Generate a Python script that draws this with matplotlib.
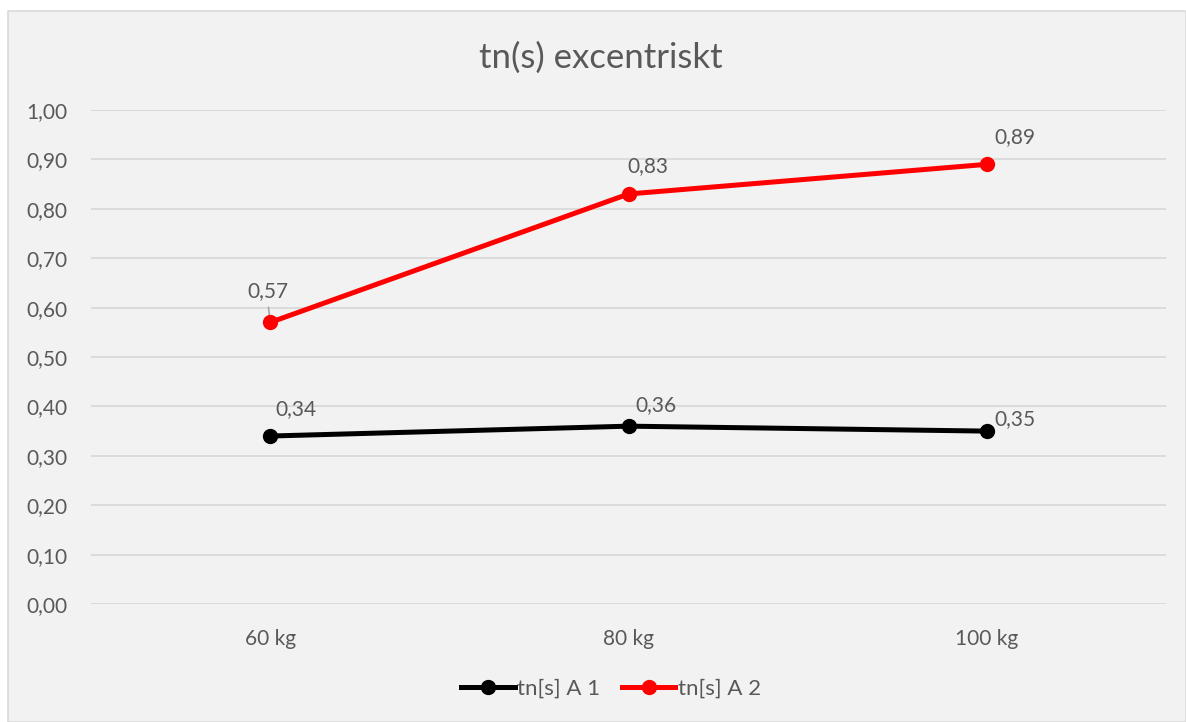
import matplotlib.pyplot as plt
import numpy as np
from matplotlib.patches import Rectangle
from matplotlib.ticker import FuncFormatter

categories = ['60 kg', '80 kg', '100 kg']
a1 = [0.34, 0.36, 0.35]
a2 = [0.57, 0.83, 0.89]
# label offsets in pixels (converted to points below)
a1_label_offsets = [(26, 27), (27, 21), (28, 12)]
a2_label_offsets = [(-2, 31), (19, 28), (28, 27)]

plt.rcParams['font.family'] = ['Lato', 'DejaVu Sans']
text_color = '#595959'
px = 0.72

fig = plt.figure(figsize=(11.86, 7.22), dpi=100)
fig.patch.set_facecolor('white')
fig.patches.append(Rectangle((8 / 1186, 0), 1 - 8 / 1186, 1 - 11 / 722,
                             transform=fig.transFigure, facecolor='#f2f2f2',
                             edgecolor='#d9d9d9', lw=1.2, zorder=-5))
ax = fig.add_axes([91 / 1186, 1 - 604 / 722, 1075 / 1186, 494 / 722])
ax.set_facecolor('none')
ax.set_zorder(2)

x = np.arange(len(categories))
ax.plot(x, a1, color='black', lw=3.6, marker='o', markersize=10, label='tn[s] A 1', zorder=3)
ax.plot(x, a2, color='#ff0000', lw=3.6, marker='o', markersize=10, label='tn[s] A 2', zorder=3)

for vals, offs in ((a1, a1_label_offsets), (a2, a2_label_offsets)):
    for xi, v, (dx, dy) in zip(x, vals, offs):
        ax.annotate(f'{v:.2f}'.replace('.', ','), (xi, v), xytext=(dx * px, dy * px),
                    textcoords='offset points', ha='center', va='center',
                    fontsize=15, color=text_color)
# leader line for the first label
ax.annotate('', (x[0], a2[0]), xytext=(-2 * px, 18 * px), textcoords='offset points',
            arrowprops=dict(arrowstyle='-', color='#a6a6a6', lw=1.2), zorder=2)

ax.set_xlim(-0.5, 2.5)
ax.set_ylim(0, 1.0)
ax.set_yticks(np.arange(0, 1.01, 0.1))
ax.yaxis.set_major_formatter(FuncFormatter(lambda v, p: f'{v:.2f}'.replace('.', ',')))
ax.set_xticks(x)
ax.set_xticklabels(categories)
ax.grid(axis='y', color='#d9d9d9', lw=1.3)
ax.set_axisbelow(True)
for s in ax.spines.values():
    s.set_visible(False)
ax.tick_params(length=0, labelsize=15, colors=text_color)
ax.tick_params(axis='y', pad=17)
ax.tick_params(axis='x', pad=18)

fig.text(601 / 1186, 1 - 58 / 722, 'tn(s) excentriskt', ha='center', va='center',
         fontsize=25, color=text_color)
fig.legend(loc='center', bbox_to_anchor=(611 / 1186, 1 - 689 / 722), ncol=2, frameon=False,
           fontsize=16, labelcolor=text_color, handlelength=2.4, handletextpad=0.1,
           columnspacing=1.0)

fig.savefig('out.png', dpi=100)
